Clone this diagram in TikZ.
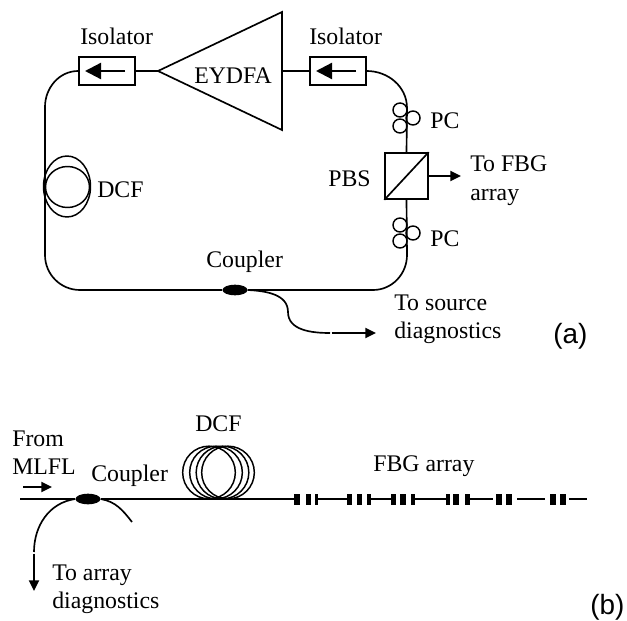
\documentclass[tikz,border=0pt]{standalone}
\usepackage{fontspec}
\setmainfont{Liberation Serif}
\newfontfamily\tagfont{Liberation Sans}
\usetikzlibrary{arrows.meta, shapes.geometric}

\begin{document}
\begin{tikzpicture}[
        x=0.75pt, y=-0.75pt,
        fiber/.style={line width=1.25pt},
        label_text/.style={font=\fontsize{17.85}{21}\selectfont, inner sep=0pt, align=left, anchor=base west},
        label_tag/.style={font=\tagfont\fontsize{20.9}{24}\selectfont, inner sep=0pt, anchor=base west},
        box_isolator/.style={draw, line width=1.25pt, rectangle, minimum width=42pt, minimum height=21pt, inner sep=0pt},
        box_pbs/.style={draw, line width=1.25pt, rectangle, minimum width=32pt, minimum height=34.5pt, inner sep=0pt},
        coil_pc/.style={draw, line width=1.1pt, circle, minimum size=10.5pt, inner sep=0pt},
        coil_dcf/.style={draw, line width=1.1pt, ellipse, inner sep=0pt},
        coupler/.style={fill=black, ellipse, minimum width=18.75pt, minimum height=8pt, inner sep=0pt},
        grating_bar/.style={fill=black, rectangle, minimum height=8.25pt, inner sep=0pt},
        arrow/.style={-{Triangle[length=8pt,width=7.5pt]}, line width=1.4pt},
        arrow_isolator/.style={-{Triangle[length=12pt,width=12pt]}, line width=1.7pt}
    ]
    \useasboundingbox (0,0) rectangle (627,620);

    % ==================== Ring (a) ====================
    % Amplifier
    \coordinate (amp_tip) at (158, 71);
    \coordinate (amp_top) at (282, 12);
    \coordinate (amp_bot) at (282, 130);
    \coordinate (amp_out) at (282, 71);
    \draw[fiber, line join=miter] (amp_tip) -- (amp_top) -- (amp_bot) -- cycle;
    \node[label_text] (label_amp) at (194, 84) {EYDFA};

    % Isolators
    \node[box_isolator] (iso_left) at (107, 71) {};
    \node[box_isolator] (iso_right) at (338, 71) {};
    \coordinate (iso_left_a) at (125, 71);
    \coordinate (iso_left_b) at (85, 71);
    \coordinate (iso_right_a) at (356, 71);
    \coordinate (iso_right_b) at (316, 71);
    \draw[arrow_isolator] (iso_left_a) -- (iso_left_b);
    \draw[arrow_isolator] (iso_right_a) -- (iso_right_b);
    \node[label_text] (label_iso_left) at (80, 45) {Isolator};
    \node[label_text] (label_iso_right) at (309, 45) {Isolator};

    % PBS
    \node[box_pbs] (pbs) at (406.5, 176) {};
    \draw[fiber] (pbs.south west) -- (pbs.north east);
    \node[label_text] (label_pbs) at (328, 187) {PBS};
    \coordinate (pbs_out) at (461, 176);
    \draw[arrow] (pbs.east) -- (pbs_out);
    \node[label_text] (label_fbg_out) at (470, 200) {To FBG\\array};

    % Polarization controllers
    \node[coil_pc] (pc_up_a) at (400, 110) {};
    \node[coil_pc] (pc_up_b) at (400, 126) {};
    \node[coil_pc] (pc_up_c) at (413, 118) {};
    \node[coil_pc] (pc_low_a) at (400, 225) {};
    \node[coil_pc] (pc_low_b) at (400, 241) {};
    \node[coil_pc] (pc_low_c) at (413, 233) {};
    \node[label_text] (label_pc_up) at (430, 129) {PC};
    \node[label_text] (label_pc_low) at (430, 246) {PC};

    % DCF
    \node[coil_dcf, minimum width=35.25pt, minimum height=45.75pt] (dcf_a_outer) at (67, 186.5) {};
    \node[coil_dcf, minimum width=33pt, minimum height=30.75pt] (dcf_a_inner) at (67.5, 187) {};
    \node[label_text] (label_dcf_a) at (97, 198) {DCF};

    % Coupler
    \node[coupler] (coupler_a) at (235, 290) {};
    \node[label_text] (label_coupler_a) at (206, 267) {Coupler};

    % Connections
    \coordinate (ring_tl) at (45, 107);
    \coordinate (ring_bl) at (45, 255);
    \coordinate (ring_bl_end) at (80, 290);
    \coordinate (ring_br) at (373, 290);
    \coordinate (ring_br_end) at (407, 255);
    \coordinate (ring_tr) at (407, 108);
    \draw[fiber] (amp_tip) -- (iso_left.east);
    \draw[fiber] (iso_right.west) -- (amp_out);
    \draw[fiber] (iso_left.west) to[out=180, in=90] (ring_tl) -- (ring_bl) to[out=-90, in=180] (ring_bl_end) -- (coupler_a.west);
    \draw[fiber] (coupler_a.east) -- (ring_br) to[out=0, in=-90] (ring_br_end) -- (pbs.south);
    \draw[fiber] (iso_right.east) to[out=0, in=90] (ring_tr) -- (pbs.north);

    % Output to diagnostics
    \coordinate (source_mid) at (288, 312);
    \coordinate (source_end) at (330, 333);
    \coordinate (source_start) at (331.5, 333);
    \coordinate (source_tip) at (376, 333);
    \draw[fiber] (coupler_a.east) to[out=-3, in=90] (source_mid) to[out=-90, in=180] (source_end);
    \draw[arrow] (source_start) -- (source_tip);
    \node[label_text] (label_source) at (394, 338) {To source\\diagnostics};
    \node[label_tag] (tag_a) at (553, 343) {(a)};

    % ==================== Array (b) ====================
    \node[label_text] (label_from) at (12, 474) {From\\MLFL};
    \coordinate (from_a) at (23, 487);
    \coordinate (from_b) at (52, 487);
    \draw[arrow] (from_a) -- (from_b);

    % Coupler
    \node[coupler] (coupler_b) at (88, 499) {};
    \node[label_text] (label_coupler_b) at (91, 481) {Coupler};

    % DCF
    \foreach \id/\x in {a/209, b/216, c/222.5, d/228}
        \node[coil_dcf, minimum width=39.5pt, minimum height=39.5pt] (dcf_b_\id) at (\x, 472.5) {};
    \node[label_text] (label_dcf_b) at (195, 431) {DCF};

    % FBG array
    \foreach \id/\x/\w in {1a/297/6, 1b/308/5, 1c/316.5/3, 2a/349.5/5, 2b/359.5/5, 2c/369/4, 3a/393.5/5, 3b/403/6, 3c/413/4, 4a/448/4, 4b/456/6, 4c/467.5/5, 5a/499/6, 5b/509/6, 6a/553/6, 6b/563/6}
        \node[grating_bar, minimum width=\w*0.75pt] (fbg_\id) at (\x, 499) {};
    \node[label_text] (label_fbg) at (373, 471) {FBG array};

    % Connections
    \coordinate (line_in) at (20, 499);
    \coordinate (line_out) at (587, 499);
    \draw[fiber] (line_in) -- (coupler_b.west);
    \draw[fiber] (coupler_b.east) -- (fbg_1a.west);
    \draw[fiber] (fbg_1c.east) -- (fbg_2a.west);
    \draw[fiber] (fbg_2c.east) -- (fbg_3a.west);
    \draw[fiber] (fbg_3c.east) -- (fbg_4a.west);
    \draw[fiber, shorten >=2.25pt] (fbg_4c.east) -- (fbg_5a.west);
    \draw[fiber, shorten <=3.75pt, shorten >=3.75pt] (fbg_5b.east) -- (fbg_6a.west);
    \draw[fiber, shorten <=2.25pt] (fbg_6b.east) -- (line_out);

    % Output to diagnostics
    \coordinate (tail_left) at (34, 552);
    \coordinate (tail_right) at (132, 522);
    \coordinate (diag_start) at (34, 553.5);
    \coordinate (diag_tip) at (34, 591);
    \draw[fiber] (coupler_b.west) to[out=188, in=90] (tail_left);
    \draw[fiber] (coupler_b.east) to[out=-10, in=128] (tail_right);
    \draw[arrow] (diag_start) -- (diag_tip);
    \node[label_text] (label_diag) at (52, 608) {To array\\diagnostics};
    \node[label_tag] (tag_b) at (590, 614) {(b)};

\end{tikzpicture}
\end{document}
